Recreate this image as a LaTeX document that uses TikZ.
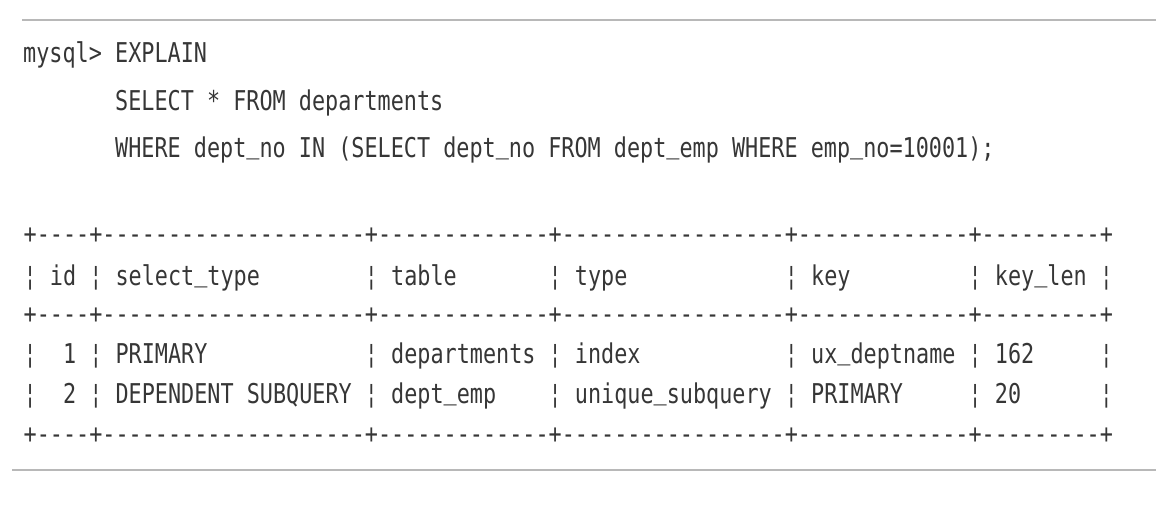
\documentclass[tikz,border=0pt]{standalone}
\usepackage{fontspec}
\usetikzlibrary{positioning}
\newfontfamily\sqlmono[FakeStretch=0.8, Ligatures=TeXOff]{DejaVu Sans Mono}
\definecolor{txtgray}{HTML}{363636}
\definecolor{rulegray}{HTML}{B8B8B8}
\newcommand\us{\raisebox{4pt}{\_}}

\begin{document}
\begin{tikzpicture}[x=1pt, y=-1pt,
    sql/.style={anchor=base west, inner sep=0pt, text=txtgray, font=\sqlmono\fontsize{27.25}{30}\selectfont\frenchspacing},
    rule/.style={draw=rulegray, line width=2pt}]
    \useasboundingbox (0,0) rectangle (1156,504);

    % top and bottom rules
    \coordinate (topl) at (22,20);
    \coordinate (topr) at (1156,20);
    \coordinate (botl) at (12,470);
    \coordinate (botr) at (1156,470);
    \draw[rule] (topl) -- (topr);
    \draw[rule] (botl) -- (botr);

    % query
    \node[sql] (prompt) at (23,62) {mysql>};
    \node[sql] (q1) at (115,62) {EXPLAIN};
    \node[sql] (q2) at (115,110) {SELECT * FROM departments};
    \node[sql] (q3) at (115,157) {WHERE dept\us no IN (SELECT dept\us no FROM dept\us emp WHERE emp\us no=10001);};

    % result table
    \node[sql] (border1) at (23.5,243) {+----+--------------------+-------------+-----------------+-------------+---------+};
    \node[sql] (head) at (23.5,285) {¦~id~¦~select\us type~~~~~~~~¦~table~~~~~~~¦~type~~~~~~~~~~~~¦~key~~~~~~~~~¦~key\us len~¦};
    \node[sql] (border2) at (23.5,323) {+----+--------------------+-------------+-----------------+-------------+---------+};
    \node[sql] (row1) at (23.5,363) {¦~~1~¦~PRIMARY~~~~~~~~~~~~¦~departments~¦~index~~~~~~~~~~~¦~ux\us deptname~¦~162~~~~~¦};
    \node[sql] (row2) at (23.5,403) {¦~~2~¦~DEPENDENT~SUBQUERY~¦~dept\us emp~~~~¦~unique\us subquery~¦~PRIMARY~~~~~¦~20~~~~~~¦};
    \node[sql] (border3) at (23.5,443) {+----+--------------------+-------------+-----------------+-------------+---------+};
\end{tikzpicture}
\end{document}
